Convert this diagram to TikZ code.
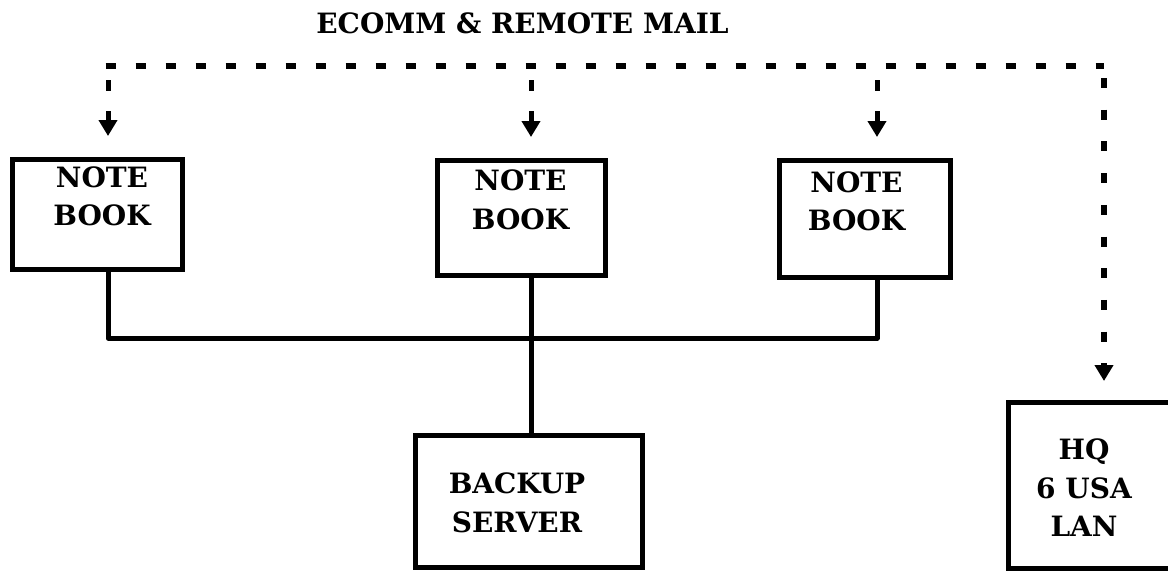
\documentclass[tikz,border=0pt]{standalone}
\usepackage{fontspec}
\setmainfont{DejaVu Serif}
\usetikzlibrary{arrows.meta}
\begin{document}
\begin{tikzpicture}[x=1pt,y=-1pt,
  box/.style={draw, line width=5pt, rectangle, inner sep=0pt, anchor=north west},
  lbl/.style={font=\fontsize{28}{38.5}\selectfont\bfseries, align=center, inner sep=0pt},
  wire/.style={line width=5pt, line join=round},
  mail/.style={line width=5.5pt, dash pattern=on 10pt off 20pt},
  drop/.style={line width=5pt, dash pattern=on 11pt off 20pt, dash phase=17pt,
               -{Triangle[length=16pt,width=18pt]}},
]
\useasboundingbox (0,0) rectangle (1168,573);
\begin{scope}
\clip (0,0) rectangle (1168,573);

% title
\node[lbl, anchor=base] (title) at (522.5,33) {ECOMM \& REMOTE MAIL};

% boxes (outer corners given)
\node[box, minimum width=170pt, minimum height=110pt] (nb1) at (10,157) {};
\node[box, minimum width=168pt, minimum height=115pt] (nb2) at (435,158) {};
\node[box, minimum width=171pt, minimum height=117pt] (nb3) at (777,158) {};
\node[box, minimum width=227pt, minimum height=132pt] (bk) at (413,433) {};
% the headquarters box runs on past the right edge of the sheet:
% only its left, top and bottom sides are drawn
\node[rectangle, inner sep=0pt, outer sep=0pt, anchor=north west,
      minimum width=300pt, minimum height=166pt] (hq) at (1008.5,402.5) {};
\draw[line width=5pt] (hq.north east) -| (hq.south west) -- (hq.south east);

% labels
\node[lbl] (t1) at (102,196.5) {NOTE\\BOOK};
\node[lbl] (t2) at (520.5,200) {NOTE\\BOOK};
\node[lbl] (t3) at (856.5,201.5) {NOTE\\BOOK};
\node[lbl] (tb) at (517,503) {BACKUP\\SERVER};
\node[lbl] (th) at (1084,488) {HQ\\6 USA\\LAN};

% mail distribution line
\coordinate (m1) at (108,66);
\coordinate (m2) at (531,66);
\coordinate (m3) at (877,66);
\coordinate (m4) at (1104,66);
\draw[mail] ([xshift=-2.5pt]m1) -- (m4);
\draw[drop, shorten >=21pt] (m1) -- (m1 |- nb1.north);
\draw[drop, shorten >=21pt] (m2) -- (m2 |- nb2.north);
\draw[drop, shorten >=21pt] (m3) -- (m3 |- nb3.north);
\draw[line width=5.5pt, dash pattern=on 10pt off 21.7pt, dash phase=19.7pt,
      -{Triangle[length=16pt,width=18pt]}, shorten >=21.5pt] (m4) -- (m4 |- hq.north);

% local network bus
\coordinate (b1) at (108,338);
\coordinate (b3) at (877,338);
\draw[wire] (m1 |- nb1.south) -- (b1) -- (b3) -- (m3 |- nb3.south);
\draw[wire] (m2 |- nb2.south) -- (m2 |- bk.north);
\end{scope}
\end{tikzpicture}
\end{document}
